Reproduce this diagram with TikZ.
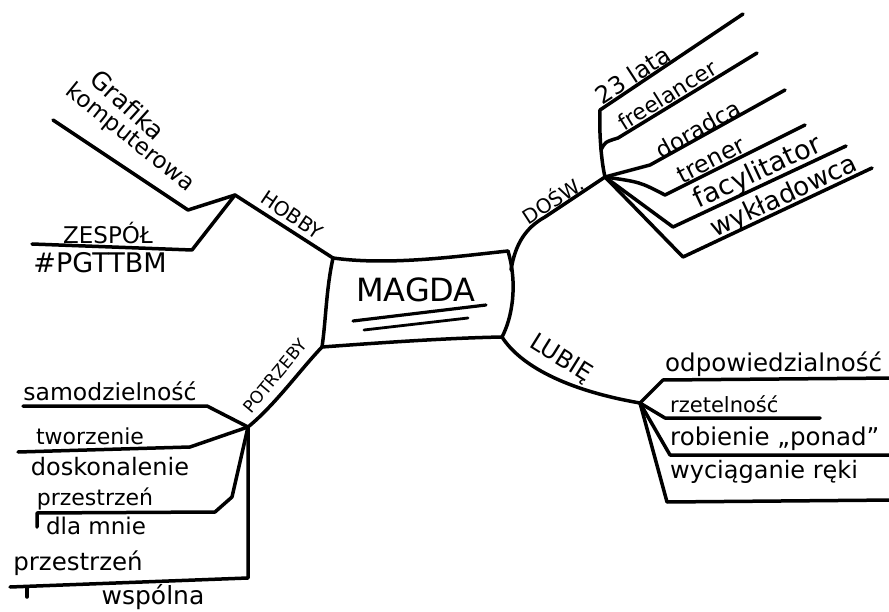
\documentclass[tikz,border=0pt]{standalone}
\usepackage{fontspec}
\setmainfont{DejaVu Sans}
\begin{document}
\begin{tikzpicture}[x=1pt,y=-1pt,
  br/.style={line width=3.5pt, line cap=round, line join=round},
  uline/.style={line width=3.2pt, line cap=round},
  txt/.style={inner sep=0pt, font=\fontsize{#1}{#1}\selectfont},
  txt/.default=22]
\useasboundingbox (0,0) rectangle (889,612);
\fill[white] (0,0) rectangle (889,612);
\clip (0,0) rectangle (889,612);

% central box
\coordinate (TL) at (333,258);
\coordinate (TR) at (508,251);
\coordinate (BR) at (502,337);
\coordinate (BL) at (322,347);
\draw[br] (TL) .. controls (390,266) and (460,256) .. (TR);
\draw[br] (BL) .. controls (390,342) and (450,338) .. (BR);
\draw[br] (TL) .. controls (326,290) and (326,320) .. (BL);
\draw[br] (TR) .. controls (518,285) and (512,318) .. (BR);
\node[txt=32] (magda) at (416,290) {MAGDA};
\coordinate (ua1) at (353,321); \coordinate (ub1) at (486,305);
\coordinate (ua2) at (364,330); \coordinate (ub2) at (468,318);
\draw[uline] (ua1) -- (ub1);
\draw[uline, line width=2.8pt] (ua2) -- (ub2);

% HOBBY
\coordinate (hh) at (235,195);
\coordinate (g2) at (188,210); \coordinate (g1) at (53,120);
\coordinate (z2) at (192,250); \coordinate (z1) at (32,244);
\draw[br] (hh) -- (TL);
\draw[br] (hh) -- (g2) -- (g1);
\draw[br] (hh) -- (z2) -- (z1);
\node[txt=20, rotate=-34] (hobby) at (292,215) {HOBBY};
\node[txt=25, rotate=-42] (grafika) at (128,105) {Grafika};
\node[txt=23, rotate=-39] (komp) at (130,138) {komputerowa};
\node[txt=23] (zespol) at (108,233) {ZESPÓŁ};
\node[txt=27] (pgttbm) at (100,263) {\#PGTTBM};

% DOSW
\coordinate (ds) at (511,270);
\coordinate (dh) at (605,177);
\coordinate (d0) at (600,110);
\coordinate (fj) at (601,150);
\coordinate (e1) at (743,14);
\coordinate (e2) at (757,53);
\coordinate (e3) at (785,90);
\coordinate (e4) at (805,125);
\coordinate (e5) at (846,146);
\coordinate (e6) at (872,168);
\draw[br] (ds) .. controls (515,245) and (525,228) .. (545,217) -- (dh);
\draw[br] (dh) .. controls (601,160) and (599,130) .. (d0) -- (e1);
\draw[br] (fj) .. controls (605,142) .. (618,138) -- (e2);
\draw[br] (dh) -- (650,165) -- (e3);
\draw[br] (dh) .. controls (640,182) .. (665,195) -- (e4);
\draw[br] (dh) -- (673,227) -- (e5);
\draw[br] (dh) -- (683,257) -- (e6);
\node[txt=20, rotate=33] (dosw) at (552,199) {DOŚW.};
\node[txt=24, rotate=33] (lata) at (633,75) {23 lata};
\node[txt=22, rotate=32] (free) at (667,95) {freelancer};
\node[txt=23, rotate=29] (dor) at (698,129) {doradca};
\node[txt=24, rotate=27] (tren) at (711,160) {trener};
\node[txt=27, rotate=25] (facyl) at (758,173) {facylitator};
\node[txt=26, rotate=25] (wykl) at (784,197) {wykładowca};

% LUBIE
\coordinate (lh) at (640,403);
\coordinate (l1) at (895,378);
\coordinate (l2) at (820,418);
\coordinate (l3) at (895,455);
\coordinate (l4) at (895,500);
\draw[br] (BR) .. controls (520,365) and (565,390) .. (lh);
\draw[br] (lh) -- (663,380) -- (l1);
\draw[br] (lh) -- (665,418) -- (l2);
\draw[br] (lh) -- (670,455) -- (l3);
\draw[br] (lh) -- (667,502) -- (l4);
\node[txt=24, rotate=-32] (lubie) at (561,359) {LUBIĘ};
\node[txt=24.5, anchor=west] (odp) at (665,364) {odpowiedzialność};
\node[txt=21, anchor=west] (rzet) at (670,404) {rzetelność};
\node[txt=24.5, anchor=west] (rob) at (670,439) {robienie „ponad”};
\node[txt=24, anchor=west] (wyc) at (670,472) {wyciąganie ręki};

% POTRZEBY
\coordinate (ph) at (248,427);
\coordinate (p1) at (23,406);
\coordinate (p2) at (18,452);
\coordinate (p3) at (37,513);
\coordinate (p3b) at (37,527);
\coordinate (p4) at (10,587);
\coordinate (p4a) at (27,587);
\coordinate (p4b) at (27,597);
\draw[br] (ph) .. controls (275,405) and (300,370) .. (BL);
\draw[br] (ph) -- (207,406) -- (p1);
\draw[br] (ph) -- (190,447) -- (p2);
\draw[br] (ph) -- (232,497) -- (215,512) -- (p3) -- (p3b);
\draw[br] (ph) -- (248,578) -- (p4);
\draw[br] (p4a) -- (p4b);
\node[txt=17, rotate=50] (potrz) at (275,376) {POTRZEBY};
\node[txt=23.5] (samo) at (110,391) {samodzielność};
\node[txt=22] (tworz) at (90,436) {tworzenie};
\node[txt=24] (dosk) at (110,467) {doskonalenie};
\node[txt=22] (przes1) at (95,499) {przestrzeń};
\node[txt=23] (dla) at (96,526) {dla mnie};
\node[txt=24.5] (przes2) at (78,563) {przestrzeń};
\node[txt=25] (wsp) at (153,597) {wspólna};
\end{tikzpicture}
\end{document}
